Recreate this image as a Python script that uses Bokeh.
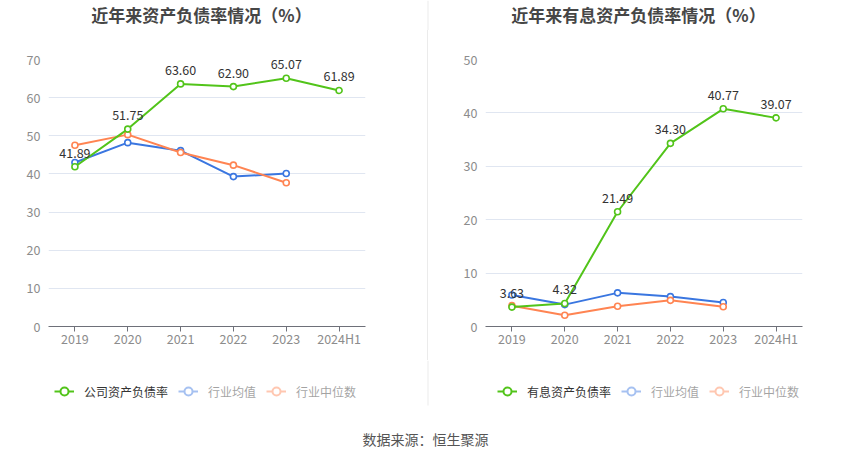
from bokeh.plotting import figure
from bokeh.models import (ColumnDataSource, FixedTicker, Label, Legend, LegendItem,
                          BoxAnnotation, FactorRange, Div)
from bokeh.layouts import row, column
from bokeh.core.properties import value
from bokeh.embed import file_html
from bokeh.resources import INLINE

FONT = "Noto Sans CJK SC"

categories = ["2019", "2020", "2021", "2022", "2023", "2024H1"]
ind_categories = ["2019", "2020", "2021", "2022", "2023"]

# Left chart: 资产负债率
debt_ratio = [41.89, 51.75, 63.60, 62.90, 65.07, 61.89]
debt_ind_mean = [43.0, 48.2, 46.1, 39.3, 40.1]
debt_ind_median = [47.5, 50.3, 45.6, 42.3, 37.7]

# Right chart: 有息资产负债率
int_ratio = [3.63, 4.32, 21.49, 34.30, 40.77, 39.07]
int_ind_mean = [5.9, 4.1, 6.3, 5.6, 4.5]
int_ind_median = [3.9, 2.1, 3.8, 4.9, 3.7]

titles = ["近年来资产负债率情况（%）", "近年来有息资产负债率情况（%）"]
legend_labels_left = ["公司资产负债率", "行业均值", "行业中位数"]
legend_labels_right = ["有息资产负债率", "行业均值", "行业中位数"]
source_note = "数据来源：恒生聚源"

GREEN = "#52c41a"
BLUE = "#3a76e0"
ORANGE = "#ff8452"
DIV_COLOR = "#ebebeb"
TITLE_H = 30
TOP_H = 330
BH = 459 - TITLE_H - TOP_H


def strip(height):
    s = figure(width=850, height=height, x_range=(0, 850), y_range=(0, height),
               output_backend="svg", toolbar_location=None,
               x_axis_location=None, y_axis_location=None, min_border=0)
    s.outline_line_color = None
    s.xgrid.visible = False
    s.ygrid.visible = False
    return s


def make_half(main_vals, mean_vals, median_vals, ymax, width, border_left, border_right):
    p = figure(width=width, height=TOP_H, x_range=FactorRange(*categories, range_padding=0),
               y_range=(0, ymax), output_backend="svg", toolbar_location=None,
               min_border_left=border_left, min_border_right=border_right,
               min_border_top=59 - TITLE_H, min_border_bottom=TOP_H + TITLE_H - 326)
    p.outline_line_color = None
    p.xgrid.grid_line_color = None
    p.ygrid.grid_line_color = "#e0e6f1"
    p.yaxis.ticker = FixedTicker(ticks=list(range(0, ymax + 1, 10)))
    p.yaxis.axis_line_color = None
    p.yaxis.major_tick_line_color = None
    p.yaxis.minor_tick_line_color = None
    p.yaxis.major_tick_out = 0
    p.yaxis.major_tick_in = 0
    p.yaxis.major_label_standoff = 8
    p.xaxis.axis_line_color = "#6e7079"
    p.xaxis.major_tick_line_color = "#6e7079"
    p.xaxis.major_tick_out = 5
    p.xaxis.major_tick_in = 0
    p.xaxis.major_label_standoff = -3
    for ax in (p.xaxis, p.yaxis):
        ax.major_label_text_font = FONT
        ax.major_label_text_font_size = "12.5px"
        ax.major_label_text_color = "#8c8c8c"

    src_mean = ColumnDataSource(dict(x=ind_categories, y=mean_vals))
    src_med = ColumnDataSource(dict(x=ind_categories, y=median_vals))
    src_main = ColumnDataSource(dict(x=categories, y=main_vals,
                                     t=["%.2f" % v for v in main_vals]))

    for src, col in ((src_mean, BLUE), (src_med, ORANGE), (src_main, GREEN)):
        p.line("x", "y", source=src, line_color=col, line_width=2)
        p.scatter("x", "y", source=src, marker="circle", size=6, line_color=col,
                  line_width=1.6, fill_color="white")
    p.text("x", "y", text="t", source=src_main, y_offset=-14, text_align="center",
           text_baseline="middle", text_font=value(FONT), text_font_size="12.5px",
           text_color="#333333")
    return p


# title strip
top = strip(TITLE_H)
for t, cx in zip(titles, (201, 638)):
    top.add_layout(Label(x=cx, y=TITLE_H - 14, text=t, text_align="center",
                         text_baseline="middle", text_font=FONT, text_font_size="17px",
                         text_font_style="bold", text_color="#464646"))
top.add_layout(BoxAnnotation(left=427, right=428, bottom=0, top=TITLE_H,
                             fill_color=DIV_COLOR, fill_alpha=1, line_alpha=0))

left = make_half(debt_ratio, debt_ind_mean, debt_ind_median, 70, 427, 48, 62)
right = make_half(int_ratio, int_ind_mean, int_ind_median, 50, 422, 57, 48)
divider = Div(text="", width=1, height=TOP_H, margin=0,
              styles={"background-color": DIV_COLOR})

# bottom strip: legends, lower part of divider, source note
bottom = strip(BH)
NAN = float("nan")


def add_legend(labels, lx):
    items = []
    for lab, col, muted in zip(labels, (GREEN, BLUE, ORANGE), (False, True, True)):
        src = ColumnDataSource(dict(x=[NAN], y=[NAN]))
        l = bottom.line("x", "y", source=src, line_color=col, line_width=2)
        s = bottom.scatter("x", "y", source=src, marker="circle", line_color=col,
                           line_width=2, fill_color="white")
        l.muted = muted
        s.muted = muted
        items.append(LegendItem(label=lab, renderers=[l, s]))
    leg = Legend(items=items, location=(lx, BH - 42), orientation="horizontal",
                 click_policy="mute", inactive_fill_color="white", inactive_fill_alpha=0.55,
                 glyph_width=20, glyph_height=22, label_height=22, label_standoff=10,
                 padding=0, margin=0, spacing=10, border_line_alpha=0,
                 background_fill_alpha=0, label_text_font=FONT,
                 label_text_font_size="12px", label_text_color="#333333")
    bottom.add_layout(leg)


add_legend(legend_labels_left, 54)
add_legend(legend_labels_right, 497)

bottom.add_layout(BoxAnnotation(left=427, right=428, bottom=459 - 405, top=BH,
                                fill_color=DIV_COLOR, fill_alpha=1, line_alpha=0))
bottom.add_layout(Label(x=425, y=459 - 438, text=source_note, text_align="center",
                        text_baseline="middle", text_font=FONT, text_font_size="14px",
                        text_color="#555555"))

layout = column(top, row(left, divider, right), bottom)
open("out.html", "w").write(file_html(layout, INLINE))
